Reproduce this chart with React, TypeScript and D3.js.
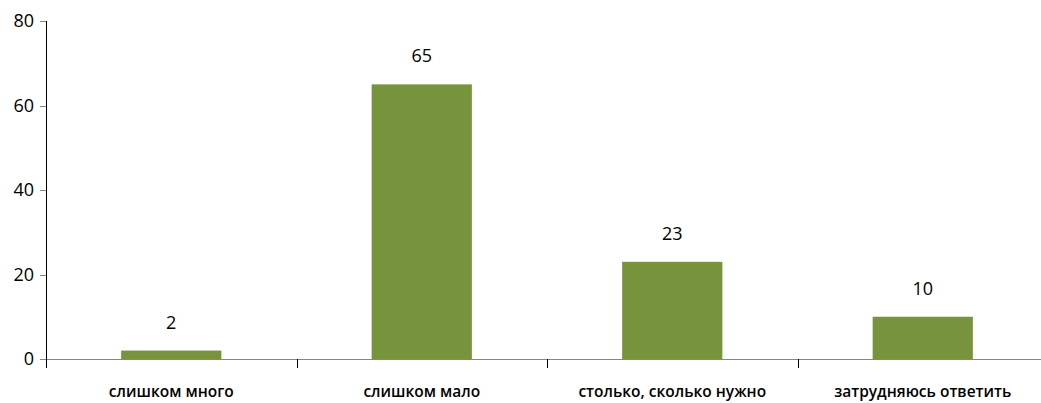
import React from "react";
import * as d3 from "d3";

const categories = ["слишком много", "слишком мало", "столько, сколько нужно", "затрудняюсь ответить"];
const values = [2, 65, 23, 10];
const yTicks = [0, 20, 40, 60, 80];

export default function App() {
  const W = 1041, H = 403;
  const x0 = 46, x1 = 1048, yTop = 21, yBot = 359;
  const x = d3.scaleBand<string>().domain(categories).range([x0, x1]).paddingInner(0.6).paddingOuter(0.3);
  const band = d3.scaleBand<string>().domain(categories).range([x0, x1]);
  const y = d3.scaleLinear().domain([0, 80]).range([yBot, yTop]);
  const font = "'Open Sans', 'DejaVu Sans', sans-serif";
  return (
    <svg width={W} height={H} style={{ position: "absolute", left: 0, top: 0 }}>
      {values.map((v, i) => (
        <rect key={i} x={x(categories[i])} y={y(v)} width={x.bandwidth()} height={y(0) - y(v)} fill="#77933C" />
      ))}
      <line x1={40} x2={W} y1={yBot + 0.5} y2={yBot + 0.5} stroke="#868686" strokeWidth={1} />
      <line x1={x0 + 0.5} x2={x0 + 0.5} y1={yTop} y2={yBot + 9} stroke="#000" strokeWidth={1} />
      {yTicks.map((t) => (
        <g key={t}>
          <line x1={40} x2={x0} y1={Math.round(y(t)) + 0.5} y2={Math.round(y(t)) + 0.5} stroke="#868686" />
          <text x={34} y={y(t)} dy="0.36em" textAnchor="end" fontFamily={font} fontSize={18} fill="#000">{t}</text>
        </g>
      ))}
      {categories.slice(1).map((c) => (
        <line key={c} x1={Math.round(band(c)!) + 0.5} x2={Math.round(band(c)!) + 0.5} y1={yBot} y2={yBot + 9} stroke="#000" />
      ))}
      {categories.map((c) => (
        <text key={c} x={band(c)! + band.bandwidth() / 2} y={397} textAnchor="middle" fontFamily={font} fontSize={15.5} fontWeight={600} fill="#000">{c}</text>
      ))}
      {values.map((v, i) => (
        <text key={i} x={x(categories[i])! + x.bandwidth() / 2} y={y(v) - 22} textAnchor="middle" fontFamily={font} fontSize={18} fill="#000">{v}</text>
      ))}
    </svg>
  );
}
